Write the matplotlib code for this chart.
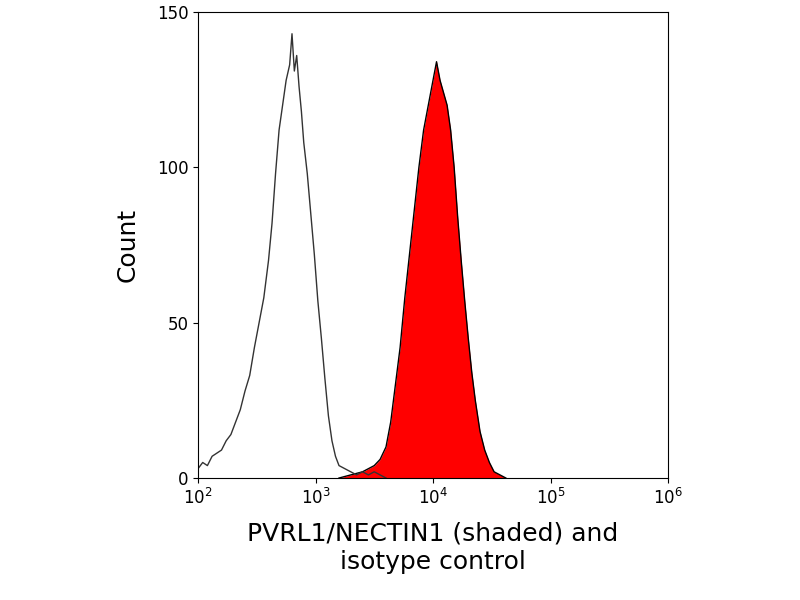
import numpy as np
import matplotlib
matplotlib.use("Agg")
from matplotlib import pyplot as plt

# log10 fluorescence positions and counts
iso_log = [2.0, 2.04, 2.08, 2.12, 2.16, 2.2, 2.24, 2.28, 2.32, 2.36, 2.4, 2.44, 2.48,
           2.52, 2.56, 2.6, 2.63, 2.66, 2.69, 2.72, 2.75, 2.78, 2.8, 2.82, 2.84, 2.86,
           2.88, 2.9, 2.93, 2.96, 2.99, 3.02, 3.05, 3.08, 3.11, 3.14, 3.17, 3.2, 3.25,
           3.3, 3.35, 3.4, 3.45, 3.5, 3.55, 3.6]
iso_cnt = [3, 5, 4, 7, 8, 9, 12, 14, 18, 22, 28, 33, 42, 50, 58, 70, 82, 98, 112, 120,
           128, 133, 143, 131, 136, 126, 118, 108, 98, 85, 72, 57, 45, 32, 20, 12, 7, 4,
           3, 2, 1, 2, 1, 2, 1, 0]
pos_log = [3.2, 3.3, 3.4, 3.45, 3.5, 3.55, 3.6, 3.64, 3.68, 3.72, 3.76, 3.8, 3.84,
           3.88, 3.92, 3.96, 4.0, 4.03, 4.06, 4.09, 4.12, 4.15, 4.18, 4.21, 4.24, 4.27,
           4.3, 4.33, 4.36, 4.4, 4.44, 4.48, 4.52, 4.57, 4.62]
pos_cnt = [0, 1, 2, 3, 4, 6, 10, 18, 30, 42, 58, 72, 86, 100, 112, 120, 128, 134, 128,
           124, 120, 112, 100, 84, 70, 57, 45, 34, 25, 15, 9, 5, 2, 1, 0]

fig = plt.figure(figsize=(8, 6), dpi=100)
ax = fig.add_axes([0.2475, 0.2033, 0.5875, 0.7767])
x_iso = 10 ** np.array(iso_log)
x_pos = 10 ** np.array(pos_log)
ax.fill_between(x_pos, pos_cnt, color="red", lw=0)
ax.plot(x_pos, pos_cnt, color="black", lw=1)
ax.plot(x_iso, iso_cnt, color="#333333", lw=1)
ax.set_xscale("log")
ax.set_xlim(1e2, 1e6)
ax.set_ylim(0, 150)
ax.set_yticks([0, 50, 100, 150])
ax.tick_params(labelsize=12)
ax.minorticks_off()
ax.set_ylabel("Count", fontsize=18, labelpad=12)
ax.set_xlabel("PVRL1/NECTIN1 (shaded) and\nisotype control", fontsize=18, labelpad=10)
fig.savefig("out.png")
